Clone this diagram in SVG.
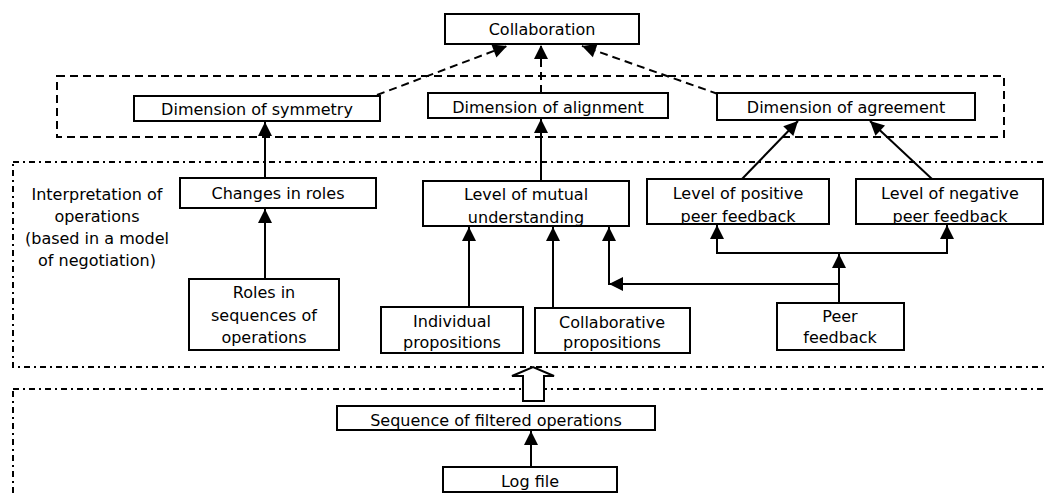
<svg xmlns="http://www.w3.org/2000/svg" width="1045" height="495" viewBox="0 0 1045 495">
  <style>
    .box { fill: #ffffff; stroke: #000000; stroke-width: 2; }
    .lbl { font-family: "DejaVu Sans", Verdana, sans-serif; font-size: 16px; fill: #000000; text-anchor: middle; }
    .note { font-family: "DejaVu Sans", Verdana, sans-serif; font-size: 16px; fill: #000000; text-anchor: middle; }
    .dash { fill: none; stroke: #000000; stroke-width: 2; stroke-dasharray: 8 5; }
    .dashdot { fill: none; stroke: #000000; stroke-width: 2; stroke-dasharray: 6 4 2 4; }
    .wire { fill: none; stroke: #000000; stroke-width: 2; }
    .wire-dash { fill: none; stroke: #000000; stroke-width: 2; stroke-dasharray: 8 5; }
  </style>
  <defs>
    <marker id="head" markerUnits="userSpaceOnUse" markerWidth="15" markerHeight="15" refX="14" refY="7" orient="auto" overflow="visible">
      <path d="M0,0 L14,7 L0,14 Z" fill="#000000" stroke="none"/>
    </marker>
  </defs>

  <rect width="1045" height="495" fill="#ffffff"/>

  <!-- layer frames -->
  <g id="frames">
    <rect class="dash" x="57" y="76" width="947" height="61"/>
    <rect class="dashdot" x="13" y="162" width="1050" height="205"/>
    <rect class="dashdot" x="13" y="389" width="1050" height="130"/>
  </g>

  <!-- connectors -->
  <g id="connectors">
    <!-- dimensions to collaboration -->
    <line class="wire-dash" x1="377" y1="95" x2="507" y2="46" marker-end="url(#head)"/>
    <line class="wire-dash" x1="541" y1="93" x2="541" y2="45" marker-end="url(#head)"/>
    <line class="wire-dash" x1="718" y1="94" x2="582" y2="46" marker-end="url(#head)"/>
    <!-- interpretations to dimensions -->
    <line class="wire" x1="265" y1="178" x2="265" y2="122" marker-end="url(#head)"/>
    <line class="wire" x1="541" y1="181" x2="541" y2="119" marker-end="url(#head)"/>
    <line class="wire" x1="742" y1="179" x2="798" y2="121" marker-end="url(#head)"/>
    <line class="wire" x1="932" y1="179" x2="870" y2="121" marker-end="url(#head)"/>
    <!-- roles -->
    <line class="wire" x1="265" y1="279" x2="265" y2="209" marker-end="url(#head)"/>
    <!-- propositions to mutual understanding -->
    <line class="wire" x1="469" y1="307" x2="469" y2="227" marker-end="url(#head)"/>
    <line class="wire" x1="553" y1="308" x2="553" y2="227" marker-end="url(#head)"/>
    <!-- peer feedback branches -->
    <line class="wire" x1="839" y1="303" x2="839" y2="254" marker-end="url(#head)"/>
    <polyline class="wire" points="717,253 947,253"/>
    <line class="wire" x1="717" y1="254" x2="717" y2="225" marker-end="url(#head)"/>
    <line class="wire" x1="947" y1="254" x2="947" y2="225" marker-end="url(#head)"/>
    <line class="wire" x1="839" y1="284" x2="609" y2="284" marker-end="url(#head)"/>
    <line class="wire" x1="609" y1="285" x2="609" y2="227" marker-end="url(#head)"/>
    <!-- filtering layer -->
    <line class="wire" x1="531" y1="467" x2="531" y2="431" marker-end="url(#head)"/>
    <polygon points="523,401 523,376 512,376 533,367 554,376 544,376 544,401" fill="#ffffff" stroke="#000000" stroke-width="2"/>
  </g>

  <g id="collaboration">
    <rect class="box" x="445" y="14" width="194" height="30"/>
    <text class="lbl" x="542" y="35">Collaboration</text>
  </g>

  <g id="dim-symmetry">
    <rect class="box" x="134" y="96" width="246" height="25"/>
    <text class="lbl" x="257" y="115">Dimension of symmetry</text>
  </g>

  <g id="dim-alignment">
    <rect class="box" x="428" y="93" width="240" height="25"/>
    <text class="lbl" x="548" y="113">Dimension of alignment</text>
  </g>

  <g id="dim-agreement">
    <rect class="box" x="717" y="93" width="258" height="27"/>
    <text class="lbl" x="846" y="113">Dimension of agreement</text>
  </g>

  <g id="interpretation-label">
    <text class="note" x="97" y="200">Interpretation of</text>
    <text class="note" x="97" y="222">operations</text>
    <text class="note" x="97" y="244">(based in a model</text>
    <text class="note" x="97" y="266">of negotiation)</text>
  </g>

  <g id="changes-roles">
    <rect class="box" x="180" y="178" width="196" height="30"/>
    <text class="lbl" x="278" y="199">Changes in roles</text>
  </g>

  <g id="mutual-understanding">
    <rect class="box" x="423" y="181" width="206" height="45"/>
    <text class="lbl" x="526" y="200">Level of mutual</text>
    <text class="lbl" x="526" y="223">understanding</text>
  </g>

  <g id="positive-feedback">
    <rect class="box" x="647" y="179" width="182" height="45"/>
    <text class="lbl" x="738" y="199">Level of positive</text>
    <text class="lbl" x="738" y="222">peer feedback</text>
  </g>

  <g id="negative-feedback">
    <rect class="box" x="856" y="179" width="187" height="45"/>
    <text class="lbl" x="950" y="199">Level of negative</text>
    <text class="lbl" x="950" y="222">peer feedback</text>
  </g>

  <g id="roles-sequences">
    <rect class="box" x="189" y="279" width="150" height="71"/>
    <text class="lbl" x="264" y="298">Roles in</text>
    <text class="lbl" x="264" y="321">sequences of</text>
    <text class="lbl" x="264" y="343">operations</text>
  </g>

  <g id="individual-propositions">
    <rect class="box" x="381" y="307" width="142" height="46"/>
    <text class="lbl" x="452" y="327">Individual</text>
    <text class="lbl" x="452" y="348">propositions</text>
  </g>

  <g id="collaborative-propositions">
    <rect class="box" x="535" y="308" width="155" height="45"/>
    <text class="lbl" x="612" y="328">Collaborative</text>
    <text class="lbl" x="612" y="348">propositions</text>
  </g>

  <g id="peer-feedback">
    <rect class="box" x="777" y="303" width="127" height="47"/>
    <text class="lbl" x="840" y="322">Peer</text>
    <text class="lbl" x="840" y="343">feedback</text>
  </g>

  <g id="filtered-operations">
    <rect class="box" x="337" y="406" width="318" height="24"/>
    <text class="lbl" x="496" y="426">Sequence of filtered operations</text>
  </g>

  <g id="log-file">
    <rect class="box" x="443" y="467" width="174" height="25"/>
    <text class="lbl" x="530" y="487">Log file</text>
  </g>
</svg>
